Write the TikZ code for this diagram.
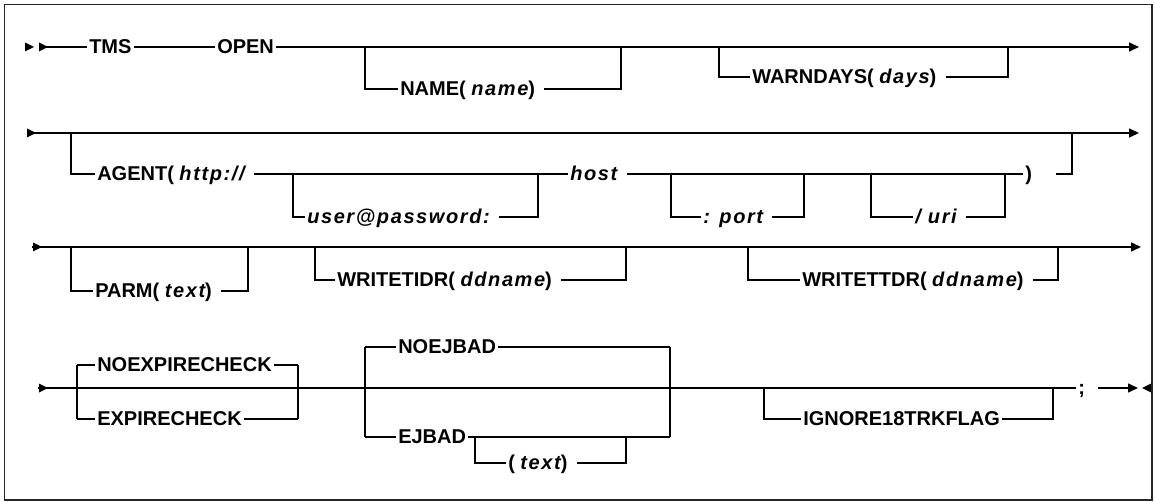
\documentclass[tikz,border=0pt]{standalone}
\usepackage{fontspec}
\setmainfont{Liberation Sans}
\newfontfamily\varfam[LetterSpace=8]{Liberation Sans}
\usetikzlibrary{arrows.meta}
\newcommand\vv[1]{{\varfam\bfseries\itshape #1}}
\newcommand\mytri[2]{\fill (#1,#2) -- ++(-9,-4.5) -- ++(0,9) -- cycle;}
\newcommand\mytril[2]{\fill (#1,#2) -- ++(9,-4.5) -- ++(0,9) -- cycle;}
\begin{document}
\begin{tikzpicture}[x=1pt,y=-1pt,
  kw/.style={font=\fontsize{20}{24}\selectfont\bfseries, inner xsep=1.5pt, inner ysep=0pt,
             text height=14pt, text depth=1pt, anchor=west},
  endarr/.style={-{Triangle[length=10pt,width=9pt]}},
  rail/.style={line width=1.5pt},
  gap/.style={xshift=7pt}]
\useasboundingbox (0,0) rectangle (1155,502);
\draw[line width=1.6pt, black!85] (4.5,4.5) rectangle (1152,500);

\begin{scope}[rail]
% ---------- Row 1 ----------
\coordinate (r1s) at (40,47);
\coordinate (r1e) at (1139,47);
\node[kw] (tms) at (87,47) {TMS};
\node[kw] (open) at (215,47) {OPEN};
\mytri{34}{47}
\mytri{48}{47}
\draw (r1s) -- (tms);
\draw (tms) -- (open);
\draw[endarr] (open) -- (r1e);
% NAME
\coordinate (n1) at (365,47);
\coordinate (n2) at (621,47);
\node[kw] (name) at (398,89) {NAME( \vv{name})};
\draw (n1) |- (name.west);
\draw ([gap]name.east) -| (n2);
% WARNDAYS
\coordinate (w1) at (719,47);
\coordinate (w2) at (1008,47);
\node[kw] (warn) at (750,77) {WARNDAYS( \vv{days})};
\draw (w1) |- (warn.west);
\draw ([gap]warn.east) -| (w2);

% ---------- Row 2 ----------
\coordinate (r2s) at (27,133);
\coordinate (r2e) at (1139,133);
\mytri{36}{133}
\draw[endarr] (r2s) -- (r2e);
\coordinate (a1) at (71,133);
\node[kw] (agent) at (95,174) {AGENT( \vv{http://}\kern4pt};
\draw (a1) |- (agent.west);
\node[kw] (host) at (568,174) {\vv{host}};
\node[kw] (rp) at (1023,174) {)};
\draw ([xshift=3pt]agent.east) -- (host.west);
\draw ([gap]host.east) -- (rp.west);
% user@password
\coordinate (u1) at (293,174);
\coordinate (u2) at (538,174);
\node[kw] (user) at (305,217) {\vv{user@password:}};
\draw (u1) |- (user.west);
\draw ([gap]user.east) -| (u2);
% port
\coordinate (p1) at (671,174);
\coordinate (p2) at (804,174);
\node[kw] (port) at (701,217) {\vv{: port}};
\draw (p1) |- (port.west);
\draw ([gap]port.east) -| (p2);
% uri
\coordinate (i1) at (871,174);
\coordinate (i2) at (1005,174);
\node[kw] (uri) at (913,217) {\vv{/ uri}};
\draw (i1) |- (uri.west);
\draw ([gap]uri.east) -| (i2);
% back to main line
\coordinate (ag1) at (1056,174);
\coordinate (ag2) at (1072,133);
\draw (ag1) -| (ag2);

% ---------- Row 3 ----------
\coordinate (r3s) at (32,247);
\coordinate (r3e) at (1141,247);
\mytri{42}{247}
\draw[endarr] (r3s) -- (r3e);
% PARM
\coordinate (pa1) at (71,247);
\coordinate (pa2) at (248,247);
\node[kw] (parm) at (93,291) {PARM( \vv{text})};
\draw (pa1) |- (parm.west);
\draw ([gap]parm.east) -| (pa2);
% WRITETIDR
\coordinate (wi1) at (315,247);
\coordinate (wi2) at (626,247);
\node[kw] (wtid) at (335,280) {WRITETIDR( \vv{ddname})};
\draw (wi1) |- (wtid.west);
\draw ([gap]wtid.east) -| (wi2);
% WRITETTDR
\coordinate (wt1) at (748,247);
\coordinate (wt2) at (1058,247);
\node[kw] (wttd) at (800,280) {WRITETTDR( \vv{ddname})};
\draw (wt1) |- (wttd.west);
\draw ([gap]wttd.east) -| (wt2);

% ---------- Row 4 ----------
\coordinate (r4s) at (38,388);
\mytri{48}{388}
\node[kw] (semi) at (1076,388) {;};
\draw (r4s) -- (semi);
\coordinate (semir) at (1098,388);
\coordinate (r4e) at (1138,388);
\draw[endarr] (semir) -- (r4e);
\mytril{1142}{388}
% NOEXPIRECHECK / EXPIRECHECK
\coordinate (x1t) at (77,365);
\coordinate (x1b) at (77,419);
\coordinate (x2t) at (298,365);
\coordinate (x2b) at (298,419);
\node[kw] (noexp) at (95,365) {NOEXPIRECHECK};
\node[kw] (exp) at (95,419) {EXPIRECHECK};
\draw (x1t) -- (x1b);
\draw (x2t) -- (x2b);
\draw (x1t) -- (noexp);
\draw (noexp) -- (x2t);
\draw (x1b) -- (exp);
\draw (exp) -- (x2b);
% NOEJBAD / EJBAD
\coordinate (e1t) at (365,347);
\coordinate (e1b) at (365,437);
\coordinate (e2t) at (670,347);
\coordinate (e2b) at (670,437);
\node[kw] (noej) at (396,347) {NOEJBAD};
\node[kw] (ej) at (396,437) {EJBAD};
\draw (e1t) -- (e1b);
\draw (e2t) -- (e2b);
\draw (e1t) -- (noej);
\draw (noej) -- (e2t);
\draw (e1b) -- (ej);
\draw (ej) -- (e2b);
% ( text )
\coordinate (t1) at (475,437);
\coordinate (t2) at (626,437);
\node[kw] (etext) at (506,463) {( \vv{text})};
\draw (t1) |- (etext.west);
\draw ([gap]etext.east) -| (t2);
% IGNORE18TRKFLAG
\coordinate (g1) at (764,388);
\coordinate (g2) at (1053,388);
\node[kw] (ign) at (801,419) {IGNORE18TRKFLAG};
\draw (g1) |- (ign.west);
\draw (ign.east) -| (g2);
\end{scope}
\end{tikzpicture}
\end{document}
